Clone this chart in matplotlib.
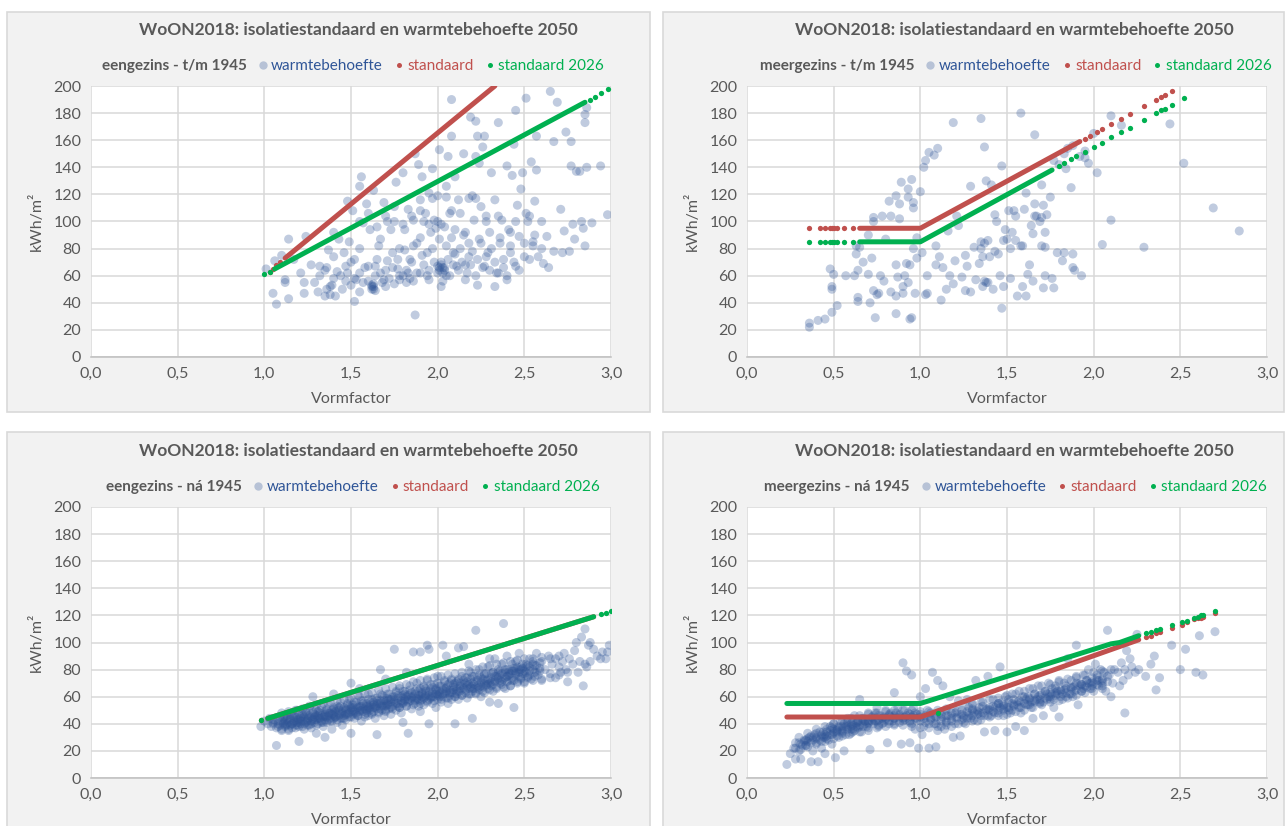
import matplotlib
matplotlib.use("Agg")
import matplotlib.pyplot as plt
from matplotlib.patches import Rectangle
from matplotlib.lines import Line2D
from matplotlib.ticker import FuncFormatter

plt.rcParams['font.family'] = ['Lato', 'DejaVu Sans']

TITLE = "WoON2018: isolatiestandaard en warmtebehoefte 2050"
panel_names = ["eengezins - t/m 1945", "meergezins - t/m 1945",
               "eengezins - ná 1945", "meergezins - ná 1945"]
series_names = ["warmtebehoefte", "standaard", "standaard 2026"]
x_ticks = [0.0, 0.5, 1.0, 1.5, 2.0, 2.5, 3.0]
y_ticks = [0, 20, 40, 60, 80, 100, 120, 140, 160, 180, 200]

# warmtebehoefte (vormfactor, kWh/m2)
tl_pts = [(1.01,65),(1.05,47),(1.07,39),(1.06,71),(1.10,75),(1.14,87),(1.12,55),(1.12,57),(1.14,43),
    (1.17,72),(1.23,47),(1.23,55),(1.24,89),(1.21,62),(1.27,68),(1.29,55),(1.31,48),(1.32,67),(1.35,45),
    (1.36,66),(1.37,79),(1.39,53),(1.40,92),(1.40,74),(1.41,45),(1.43,87),(1.44,60),(1.46,77),(1.47,67),
    (1.48,115),(1.49,85),(1.50,53),(1.51,108),(1.52,41),(1.52,72),(1.53,57),(1.55,80),(1.55,126),(1.56,133),
    (1.57,99),(1.57,55),(1.59,113),(1.60,67),(1.61,94),(1.62,52),(1.63,50),(1.63,123),(1.64,67),(1.66,82),
    (1.67,87),(1.69,114),(1.69,57),(1.70,52),(1.71,71),(1.71,100),(1.73,94),(1.74,77),(1.75,111),(1.76,129),
    (1.77,65),(1.78,60),(1.80,136),(1.81,79),(1.81,94),(1.82,55),(1.83,109),(1.84,72),(1.86,101),(1.87,31),
    (1.87,150),(1.88,84),(1.89,142),(1.90,62),(1.90,116),(1.91,133),(1.93,106),(1.94,77),(1.95,121),(1.95,57),
    (1.96,92),(1.97,139),(1.98,101),(2.00,67),(2.00,119),(2.01,87),(2.01,153),(2.02,52),(2.03,62),(2.04,96),
    (2.05,126),(2.06,148),(2.07,106),(2.08,163),(2.08,190),(2.09,77),(2.10,94),(2.10,133),(2.11,67),(2.13,106),
    (2.15,150),(2.16,57),(2.16,92),(2.18,74),(2.19,177),(2.20,119),(2.21,101),(2.22,148),(2.22,174),(2.23,53),
    (2.23,163),(2.24,87),(2.24,143),(2.25,111),(2.26,155),(2.27,67),(2.27,163),(2.28,104),(2.29,77),(2.30,92),
    (2.31,136),(2.33,116),(2.33,52),(2.34,62),(2.35,173),(2.36,84),(2.37,101),(2.38,72),(2.40,141),(2.40,57),
    (2.41,94),(2.42,77),(2.43,134),(2.44,157),(2.45,182),(2.45,67),(2.46,112),(2.47,89),(2.48,124),(2.49,136),
    (2.50,74),(2.51,106),(2.51,191),(2.53,104),(2.54,144),(2.55,82),(2.56,115),(2.57,138),(2.57,163),(2.58,74),
    (2.60,100),(2.61,69),(2.63,89),(2.64,66),(2.65,196),(2.67,78),(2.67,159),(2.69,188),(2.71,109),(2.72,77),
    (2.73,93),(2.74,166),(2.76,78),(2.77,141),(2.77,159),(2.78,98),(2.79,87),(2.80,137),(2.82,137),(2.83,100),
    (2.84,95),(2.85,173),(2.85,179),(2.86,184),(2.85,82),(2.86,140),(2.89,99),(2.94,141),(2.98,105),
    (1.32,60),(1.35,64),(1.38,52),(1.40,58),(1.42,63),(1.45,50),(1.48,62),(1.50,70),(1.52,58),(1.55,62),
    (1.55,48),(1.58,66),(1.60,56),(1.62,53),(1.64,60),(1.65,72),(1.67,62),(1.68,55),(1.70,64),(1.72,58),
    (1.74,66),(1.75,54),(1.77,72),(1.78,80),(1.80,60),(1.82,64),(1.84,58),(1.85,70),(1.86,82),(1.88,62),
    (1.90,88),(1.91,75),(1.92,68),(1.94,60),(1.95,98),(1.97,80),(1.98,70),(1.99,95),(2.00,62),(2.01,64),
    (2.02,70),(2.02,98),(2.03,56),(2.04,66),(2.05,82),(2.06,72),(2.07,60),(2.08,88),(2.09,68),(2.10,76),
    (2.12,64),(2.13,80),(2.14,70),(2.15,90),(2.17,62),(2.18,84),(2.19,68),(2.20,78),(2.22,60),(2.23,72),
    (2.25,84),(2.26,66),(2.28,74),(2.30,64),(2.31,80),(2.33,70),(2.35,62),(2.36,88),(2.38,66),(2.40,60),
    (2.42,82),(2.44,70),(2.47,64),(2.50,84),(2.53,72),(2.56,90),(2.60,80),(1.62,50),(1.63,52),(1.95,64),
    (2.02,68),(2.03,66),(1.47,56),(1.83,62),(1.55,100),(1.60,106),(1.65,96),(1.70,104),(1.75,100),(1.80,98),
    (1.85,104),(1.90,108),(1.92,100),(1.97,117),(2.00,100),(2.05,118),(2.08,108),(2.12,116),(2.18,117),
    (2.22,117),(2.28,100),(2.35,104),(2.42,92),(2.45,100),(2.52,100),(2.55,85),
    (1.36,50),(1.38,46),(1.63,54),(1.64,49),(1.86,56),(2.01,66),(2.04,64),(2.05,60),(1.78,57),(2.16,68)]

tr_pts = [(0.36,22),(0.36,25),(0.41,27),(0.45,28),(0.49,33),(0.48,65),(0.49,52),(0.49,50),(0.50,61),
    (0.52,38),(0.57,60),(0.62,60),(0.63,76),(0.63,82),(0.64,64),(0.64,44),(0.64,41),(0.65,81),(0.67,70),
    (0.70,61),(0.70,90),(0.71,40),(0.72,73),(0.73,100),(0.73,103),(0.74,29),(0.73,49),(0.75,46),(0.76,47),
    (0.77,60),(0.78,104),(0.79,56),(0.80,87),(0.82,115),(0.83,48),(0.83,104),(0.86,119),(0.86,68),(0.86,32),
    (0.86,45),(0.87,59),(0.88,102),(0.88,113),(0.89,129),(0.90,52),(0.90,47),(0.91,60),(0.92,69),(0.93,124),
    (0.93,118),(0.93,55),(0.94,68),(0.94,28),(0.95,29),(0.95,131),(0.96,114),(0.96,110),(0.96,80),(0.97,47),
    (0.98,73),(0.98,88),(1.00,122),(1.01,77),(1.02,140),(1.03,145),(1.03,46),(1.04,47),(1.04,60),(1.05,151),
    (1.08,149),(1.09,82),(1.09,68),(1.10,154),(1.11,74),(1.12,42),(1.13,66),(1.15,50),(1.16,93),(1.17,60),
    (1.19,173),(1.19,54),(1.20,71),(1.21,104),(1.22,97),(1.24,59),(1.26,49),(1.26,75),(1.27,67),(1.29,126),
    (1.29,48),(1.31,81),(1.32,57),(1.34,69),(1.35,176),(1.35,85),(1.36,74),(1.36,52),(1.37,155),(1.38,130),
    (1.38,55),(1.39,86),(1.40,74),(1.41,127),(1.42,50),(1.43,105),(1.44,100),(1.45,76),(1.46,60),(1.47,141),
    (1.47,36),(1.48,52),(1.49,94),(1.50,87),(1.51,108),(1.52,58),(1.52,80),(1.53,92),(1.54,108),(1.55,104),
    (1.56,45),(1.58,180),(1.59,82),(1.59,52),(1.60,109),(1.61,121),(1.61,45),(1.62,61),(1.63,68),(1.64,97),
    (1.65,56),(1.65,91),(1.66,113),(1.66,164),(1.67,104),(1.69,100),(1.70,127),(1.70,82),(1.71,112),(1.71,51),
    (1.72,60),(1.72,92),(1.73,105),(1.75,118),(1.76,58),(1.77,51),(1.79,77),(1.82,71),(1.83,77),(1.84,139),
    (1.85,154),(1.87,125),(1.88,66),(1.88,76),(1.89,64),(1.93,60),(1.95,147),(1.97,143),(2.02,136),(2.05,83),
    (2.10,178),(2.10,101),(2.16,171),(2.29,81),(2.44,172),(2.52,143),(2.69,110),(2.84,93),
    (1.35,80),(1.37,84),(1.43,78),(1.48,86),(1.55,86),(1.58,82),(1.66,104),(1.70,103),(1.72,81),(1.39,55),
    (1.37,56),(1.80,142),(1.83,150),(1.88,156),(1.92,148),(1.95,152),(2.00,165),(1.77,145)]

bl_pts = [(0.98,38),(1.00,42),(1.02,40),(1.03,44),(1.04,38),(1.05,41),(1.06,43),(1.07,24),(1.07,37),
    (1.08,40),(1.09,45),(1.09,39),(1.10,42),(1.10,36),
    (1.11,40),(1.11,44),(1.12,38),(1.12,42),(1.13,46),(1.13,39),(1.14,41),(1.14,35),(1.15,43),(1.15,47),
    (1.16,40),(1.16,37),(1.17,44),(1.17,42),(1.18,39),(1.18,45),(1.19,50),(1.19,41),(1.20,27),(1.20,43),(1.20,38),
    (1.21,44),(1.21,40),(1.22,47),(1.22,42),(1.23,36),(1.23,45),(1.24,41),(1.24,49),(1.25,43),(1.25,39),
    (1.26,46),(1.26,52),(1.27,42),(1.27,37),(1.28,44),(1.28,48),(1.29,41),(1.29,45),(1.30,50),(1.30,33),(1.30,43),
    (1.31,46),(1.31,40),(1.32,44),(1.32,48),(1.33,42),(1.33,52),(1.34,45),(1.34,38),(1.35,47),(1.35,30),
    (1.35,43),(1.36,50),(1.36,41),(1.37,46),(1.37,55),(1.38,44),(1.38,48),(1.39,42),(1.39,36),(1.40,47),
    (1.40,51),(1.40,44),
    (1.41,49),(1.41,45),(1.42,53),(1.42,41),(1.43,47),(1.43,50),(1.44,44),(1.44,56),(1.45,48),(1.45,39),
    (1.46,46),(1.46,52),(1.47,50),(1.47,43),(1.48,54),(1.48,47),(1.49,45),(1.49,58),(1.50,49),(1.50,33),
    (1.50,52),(1.50,70),
    (1.51,47),(1.51,54),(1.52,50),(1.52,44),(1.53,56),(1.53,48),(1.54,52),(1.54,46),(1.55,60),(1.55,50),
    (1.56,42),(1.56,53),(1.57,49),(1.57,57),(1.58,51),(1.58,45),(1.59,55),(1.59,48),(1.60,52),(1.60,62),(1.60,46),
    (1.61,54),(1.61,50),(1.62,47),(1.62,58),(1.63,52),(1.63,56),(1.64,44),(1.64,53),(1.65,59),(1.65,32),
    (1.65,51),(1.66,55),(1.66,48),(1.67,57),(1.67,62),(1.68,50),(1.68,54),(1.69,46),(1.69,60),(1.70,53),
    (1.70,57),(1.70,49),(1.70,73),
    (1.71,55),(1.71,62),(1.72,51),(1.72,58),(1.73,47),(1.73,56),(1.74,60),(1.74,53),(1.75,95),(1.75,57),
    (1.76,50),(1.76,64),(1.77,55),(1.77,59),(1.78,52),(1.78,66),(1.79,57),(1.79,48),(1.80,61),(1.80,55),(1.80,41),
    (1.81,58),(1.81,64),(1.82,53),(1.82,60),(1.83,33),(1.83,56),(1.84,62),(1.84,68),(1.85,57),(1.85,51),
    (1.86,60),(1.86,93),(1.87,55),(1.87,64),(1.88,59),(1.88,70),(1.89,53),(1.89,61),(1.90,57),(1.90,66),(1.90,49),
    (1.91,62),(1.91,58),(1.92,68),(1.92,54),(1.93,60),(1.93,64),(1.94,57),(1.94,72),(1.95,61),(1.95,40),
    (1.95,95),(1.96,59),(1.96,66),(1.97,63),(1.97,55),(1.98,69),(1.98,60),(1.99,65),(1.99,52),(2.00,62),
    (2.00,75),(2.00,58),
    (2.01,64),(2.01,60),(2.02,68),(2.02,56),(2.03,62),(2.03,98),(2.04,66),(2.04,72),(2.05,59),(2.05,63),
    (2.06,69),(2.06,55),(2.07,65),(2.07,61),(2.08,73),(2.08,58),(2.09,67),(2.09,63),(2.10,60),(2.10,70),(2.10,40),
    (2.11,66),(2.11,62),(2.12,72),(2.12,58),(2.13,68),(2.13,64),(2.14,75),(2.14,61),(2.15,67),(2.15,97),
    (2.16,63),(2.16,70),(2.17,59),(2.17,74),(2.18,66),(2.18,69),(2.19,62),(2.19,78),(2.20,68),(2.20,44),(2.20,64),
    (2.21,71),(2.21,66),(2.22,109),(2.22,62),(2.23,74),(2.23,68),(2.24,65),(2.24,80),(2.25,70),(2.25,60),
    (2.26,73),(2.26,67),(2.27,77),(2.27,63),(2.28,69),(2.28,72),(2.29,66),(2.29,82),(2.30,70),(2.30,56),
    (2.31,74),(2.31,68),(2.32,78),(2.32,64),(2.33,71),(2.33,88),(2.34,75),(2.34,67),(2.35,80),(2.35,55),
    (2.36,72),(2.36,76),(2.37,69),(2.37,84),(2.38,73),(2.38,114),(2.39,78),(2.39,66),(2.40,75),(2.40,90),
    (2.41,72),(2.41,80),(2.42,77),(2.42,68),(2.43,84),(2.43,74),(2.44,52),(2.44,79),(2.45,76),(2.45,86),
    (2.46,71),(2.46,82),(2.47,78),(2.47,92),(2.48,74),(2.48,80),(2.49,84),(2.50,77),(2.50,70),
    (2.51,82),(2.52,75),(2.53,88),(2.53,79),(2.54,73),(2.55,84),(2.56,78),(2.57,92),(2.58,76),(2.59,81),
    (2.60,86),(2.60,72),(2.62,80),(2.64,90),(2.65,77),(2.66,84),(2.68,88),(2.68,74),
    (2.70,82),(2.71,78),(2.72,86),(2.73,92),(2.74,80),(2.75,71),(2.76,88),(2.78,84),(2.79,94),(2.80,100),
    (2.81,78),(2.82,86),(2.83,104),(2.84,68),(2.85,110),(2.86,82),(2.87,98),(2.88,86),(2.90,95),(2.92,90),
    (2.94,88),(2.95,93),(2.97,88),(2.98,93),(2.99,98),(2.85,84),(2.88,100),(2.75,78),
    (1.28,60),(1.40,62),(1.55,66),(1.67,80),(1.82,78),(1.90,93),(1.94,98),(2.05,90),(2.12,96),(2.30,88),(2.18,84)]

# the dark core of the eengezins ná 1945 cloud
bl_core_pts = [(1.05,40),(1.05,43),(1.08,42),(1.08,38),(1.11,41),(1.11,45),(1.13,43),(1.13,40),(1.15,39),
    (1.15,44),(1.17,46),(1.17,41),(1.19,43),(1.19,39),(1.21,45),(1.21,42),(1.23,40),(1.23,47),(1.25,44),
    (1.25,46),(1.27,45),(1.27,40),(1.29,47),(1.29,43),(1.31,44),(1.31,49),(1.33,46),(1.33,41),(1.35,49),
    (1.35,45),(1.37,43),(1.37,48),(1.39,47),(1.39,50),(1.41,45),(1.41,51),(1.43,52),(1.43,46),(1.45,49),
    (1.45,44),(1.47,51),(1.47,47),(1.49,48),(1.49,53),(1.51,50),(1.51,52),(1.53,47),(1.53,54),(1.55,53),
    (1.55,49),(1.57,51),(1.57,55),(1.59,50),(1.59,53),(1.61,56),(1.61,52),(1.63,54),(1.63,49),(1.65,53),
    (1.65,57),(1.67,55),(1.67,51),(1.69,57),(1.69,53),(1.71,54),(1.71,59),(1.73,58),(1.73,52),(1.75,56),
    (1.75,60),(1.77,53),(1.77,61),(1.79,60),(1.79,55),(1.81,57),(1.81,62),(1.83,61),(1.83,58),(1.85,59),
    (1.85,63),(1.87,62),(1.87,57),(1.89,58),(1.89,64),(1.91,63),(1.91,60),(1.93,61),(1.93,66),(1.95,64),
    (1.95,58),(1.97,60),(1.97,67),(1.99,66),(1.99,62),(2.01,62),(2.01,68),(2.03,65),(2.03,60),(2.05,67),
    (2.05,64),(2.07,63),(2.07,70),(2.09,69),(2.09,65),(2.11,64),(2.11,71),(2.13,70),(2.13,66),(2.15,66),
    (2.15,72),(2.17,71),(2.17,68),(2.19,67),(2.19,73),(2.21,69),(2.21,75),(2.23,72),(2.23,66),(2.25,74),
    (2.25,68),(2.27,70),(2.27,76),(2.29,73),(2.29,69),(2.31,71),(2.31,77),(2.33,75),(2.33,72),(2.35,73),
    (2.35,78),(2.37,77),(2.37,71),(2.39,74),(2.39,80),(2.41,76),(2.41,78),(2.43,79),(2.43,72),(2.45,78),
    (2.45,81),(2.47,75),(2.47,80),(2.49,81),(2.49,77),(2.51,78),(2.51,84),(2.53,76),(2.53,82),(2.55,80),
    (2.55,86),(2.57,83),(2.57,78),(2.59,79),(2.59,85),
    (1.20,44),(1.30,46),(1.40,48),(1.50,51),(1.60,53),(1.70,56),(1.80,59),(1.90,61),(2.00,64),(2.10,67),
    (2.20,70),(2.30,72),(2.40,75),(2.50,79),(1.25,42),(1.35,46),(1.45,50),(1.55,52),(1.65,55),(1.75,58),
    (1.85,60),(1.95,63),(2.05,66),(2.15,69),(2.25,71),(2.35,74),(2.45,77)]

# upper and lower flanks of that cloud
bl_flank_pts = [(1.10,48),(1.10,35),(1.14,49),(1.14,36),(1.18,50),(1.18,37),(1.22,51),(1.22,38),(1.26,53),
    (1.26,39),(1.30,54),(1.30,39),(1.34,55),(1.34,41),(1.38,56),(1.38,42),(1.42,57),(1.42,43),(1.46,58),
    (1.46,44),(1.50,59),(1.50,45),(1.54,61),(1.54,46),(1.58,62),(1.58,47),(1.62,63),(1.62,48),(1.66,65),
    (1.66,49),(1.70,66),(1.70,50),(1.74,67),(1.74,51),(1.78,68),(1.78,52),(1.82,69),(1.82,53),(1.86,71),
    (1.86,54),(1.90,72),(1.90,55),(1.94,73),(1.94,56),(1.98,74),(1.98,57),(2.02,75),(2.02,58),(2.06,76),
    (2.06,59),(2.10,77),(2.10,60),(2.14,78),(2.14,61),(2.18,79),(2.18,62),(2.22,80),(2.22,63),(2.26,82),
    (2.26,64),(2.30,83),(2.30,65),(2.34,84),(2.34,66),(2.38,85),(2.38,67),(2.42,86),(2.42,68),(2.46,87),
    (2.46,70),(2.50,88),(2.50,71),(2.55,88),(2.55,72),(2.60,89),(2.60,73),(2.65,88),(2.65,74),(2.70,90),
    (2.70,76),
    (1.12,45),(1.16,46),(1.20,47),(1.24,48),(1.28,49),(1.32,50),(1.36,51),(1.40,52),(1.44,53),(1.48,55),
    (1.52,56),(1.56,57),(1.60,58),(1.64,59),(1.68,61),(1.72,62),(1.76,63),(1.80,64),(1.84,65),(1.88,66),
    (1.92,67),(1.96,69),(2.00,70),(2.04,71),(2.08,72),(2.12,73),(2.16,74),(2.20,75),(2.24,76),(2.28,77),
    (2.32,78),(2.36,79),(2.40,80),(2.44,81),(2.48,82),(2.52,83),(2.56,83),
    (1.12,39),(1.16,40),(1.20,41),(1.24,42),(1.28,43),(1.32,44),(1.36,45),(1.40,46),(1.44,47),(1.48,48),
    (1.52,49),(1.56,50),(1.60,51),(1.64,52),(1.68,53),(1.72,54),(1.76,55),(1.80,56),(1.84,57),(1.88,58),
    (1.92,59),(1.96,60),(2.00,61),(2.04,62),(2.08,63),(2.12,64),(2.16,65),(2.20,66),(2.24,67),(2.28,68),
    (2.32,69),(2.36,70),(2.40,71),(2.44,72),(2.48,73),(2.52,74),(2.56,75)]

br_pts = [(0.23,10),(0.25,18),(0.27,22),(0.28,14),(0.30,26),(0.31,14),(0.33,28),(0.34,24),(0.36,30),
    (0.37,12),(0.38,20),(0.39,32),(0.40,26),(0.41,12),(0.42,34),(0.43,22),(0.44,30),(0.45,18),(0.46,36),
    (0.47,28),(0.48,38),(0.49,25),(0.50,33),(0.50,40),(0.51,15),(0.52,36),(0.53,30),(0.54,42),(0.55,34),
    (0.56,20),(0.57,38),(0.58,44),(0.59,32),(0.60,40),(0.61,36),(0.62,46),(0.63,38),(0.64,42),(0.65,58),
    (0.66,34),(0.67,44),(0.68,40),(0.70,48),(0.71,21),(0.72,42),(0.73,46),(0.75,52),(0.76,38),(0.77,46),
    (0.78,44),(0.80,50),(0.81,26),(0.82,40),(0.83,48),(0.85,63),(0.85,44),(0.87,52),(0.88,46),(0.89,25),
    (0.90,85),(0.90,42),(0.91,50),(0.92,79),(0.93,48),(0.94,26),(0.95,76),(0.95,40),(0.96,52),(0.97,36),
    (0.98,47),(0.99,22),(1.00,45),(1.00,60),(1.01,32),(1.02,38),(1.03,66),(1.04,50),(1.05,22),(1.06,44),
    (1.07,78),(1.08,40),(1.09,23),(1.10,35),(1.10,72),(1.11,48),(1.12,42),(1.13,68),(1.14,36),(1.15,50),
    (1.16,46),(1.17,60),(1.18,38),(1.19,30),(1.20,48),(1.21,44),(1.22,57),(1.23,31),(1.24,50),(1.25,46),
    (1.26,40),(1.27,58),(1.28,52),(1.29,44),(1.30,54),(1.31,48),(1.32,72),(1.33,42),(1.34,52),(1.35,46),
    (1.36,56),(1.37,34),(1.38,50),(1.39,75),(1.40,52),(1.41,46),(1.42,58),(1.43,35),(1.44,54),(1.45,48),
    (1.46,82),(1.47,56),(1.48,50),(1.49,60),(1.50,52),(1.50,34),(1.51,58),(1.52,48),(1.53,62),(1.54,54),
    (1.55,38),(1.56,56),(1.57,64),(1.58,52),(1.59,60),(1.60,35),(1.61,58),(1.62,54),(1.63,66),(1.64,56),
    (1.65,44),(1.66,62),(1.67,58),(1.68,68),(1.69,55),(1.70,62),(1.71,46),(1.72,64),(1.73,58),(1.74,70),
    (1.75,60),(1.76,66),(1.77,52),(1.78,68),(1.79,62),(1.80,72),(1.80,45),(1.81,64),(1.82,58),(1.83,70),
    (1.84,66),(1.85,88),(1.86,62),(1.87,72),(1.88,60),(1.89,68),(1.90,98),(1.90,74),(1.91,54),(1.92,70),
    (1.93,64),(1.94,76),(1.95,68),(1.96,72),(1.97,80),(1.98,66),(1.99,74),(2.00,70),(2.01,84),(2.02,76),
    (2.03,68),(2.04,80),(2.05,72),(2.06,78),(2.07,64),(2.08,109),(2.09,76),(2.10,80),(2.10,60),(2.11,70),
    (2.12,80),(2.14,78),(2.15,68),(2.16,85),(2.17,72),(2.18,48),(2.18,80),(2.19,94),(2.20,76),(2.21,88),
    (2.22,82),(2.24,78),(2.25,106),(2.26,80),(2.30,75),(2.33,84),(2.35,90),(2.36,65),(2.38,74),(2.45,98),
    (2.50,80),(2.53,95),(2.59,78),(2.61,105),(2.63,76),(2.70,108),
    (0.32,24),(0.35,27),(0.38,28),(0.40,30),(0.42,28),(0.44,34),(0.46,31),(0.48,32),(0.50,36),(0.52,34),
    (0.53,38),(0.55,36),(0.56,40),(0.58,38),(0.60,36),(0.61,42),(0.63,40),(0.65,38),(0.66,44),(0.68,42),
    (0.70,40),(0.72,45),(0.74,42),(0.76,46),(0.78,40),(0.80,44),(0.82,47),(0.84,42),(0.86,48),(0.88,44),
    (0.92,46),(0.94,42),(0.96,46),(0.98,42),(1.02,44),(1.05,40),(1.08,46),(1.12,38),(1.15,42),(1.18,44),
    (1.22,40),(1.25,44),(1.28,46),(1.31,43),(1.34,48),(1.37,46),(1.40,50),(1.43,48),(1.46,52),(1.48,46),
    (1.51,52),(1.53,50),(1.56,54),(1.58,48),(1.61,54),(1.64,52),(1.66,56),(1.69,58),(1.71,56),(1.74,60),
    (1.77,58),(1.79,64),(1.82,62),(1.84,60),(1.87,66),(1.89,64),(1.92,68),(1.94,66),(1.97,70),(1.99,68),
    (2.02,72),(2.05,68),(1.76,62),(1.62,60),(1.45,55),(1.30,50),(0.57,32),(0.62,35),(0.45,30),(0.69,38),(0.74,48)]

# the dark core of the meergezins ná 1945 cloud
br_core_pts = [(0.28,22),(0.28,26),(0.31,25),(0.31,21),(0.34,28),(0.34,24),(0.37,26),(0.37,31),(0.40,29),
    (0.40,33),(0.43,31),(0.43,27),(0.46,34),(0.46,29),(0.49,32),(0.49,37),(0.52,35),(0.52,31),(0.55,38),
    (0.55,33),(0.58,36),(0.58,41),(0.61,39),(0.61,34),(0.64,41),(0.64,37),(0.67,38),(0.67,43),(0.70,42),
    (0.70,37),(0.73,40),(0.73,44),(0.76,43),(0.76,39),(0.79,45),(0.79,41),(0.82,42),(0.82,46),(0.85,46),
    (0.85,40),(0.88,41),(0.88,47),(0.91,45),(0.91,43),(0.94,47),(0.94,41),(0.97,44),(0.97,48),(1.00,42),
    (1.00,47),(1.03,46),(1.03,41),(1.06,43),(1.06,48),(1.09,40),(1.09,45),(1.12,44),(1.12,47),(1.15,46),
    (1.15,41),(1.18,42),(1.18,48),(1.21,45),(1.21,49),(1.24,47),(1.24,43),(1.27,49),(1.27,44),(1.30,46),
    (1.30,51),(1.33,50),(1.33,47),(1.36,48),(1.36,53),(1.39,51),(1.39,46),(1.42,53),(1.42,49),(1.45,50),
    (1.45,55),(1.48,54),(1.48,51),(1.51,56),(1.51,50),(1.54,53),(1.54,58),(1.57,57),(1.57,52),(1.60,55),
    (1.60,60),(1.63,59),(1.63,54),(1.66,57),(1.66,62),(1.69,61),(1.69,56),(1.72,59),(1.72,64),(1.75,63),
    (1.75,58),(1.78,61),(1.78,66),(1.81,65),(1.81,60),(1.84,63),(1.84,68),(1.87,67),(1.87,62),(1.90,65),
    (1.90,70),(1.93,69),(1.93,64),(1.96,67),(1.96,72),(1.99,71),(1.99,66),(2.02,69),(2.02,74),(2.05,73),
    (2.05,70),(2.08,75),(2.08,71),
    (0.35,29),(0.45,32),(0.55,35),(0.65,39),(0.75,42),(0.85,44),(0.95,45),(0.60,38),(0.50,34),(0.70,41),
    (0.80,43),(0.90,44)]

# upper and lower flanks of that cloud
br_flank_pts = [(0.30,30),(0.30,20),(0.35,33),(0.35,23),(0.40,36),(0.40,25),(0.45,38),(0.45,27),(0.50,40),
    (0.50,29),(0.55,42),(0.55,31),(0.60,44),(0.60,33),(0.65,46),(0.65,34),(0.70,47),(0.70,35),(0.75,48),
    (0.75,37),(0.80,49),(0.80,38),(0.85,50),(0.85,39),(0.90,50),(0.90,39),(0.95,50),(0.95,38),(1.00,49),
    (1.00,37),(1.05,49),(1.05,37),(1.10,50),(1.10,38),(1.15,51),(1.15,39),(1.20,52),(1.20,40),(1.25,53),
    (1.25,41),(1.30,55),(1.30,42),(1.35,56),(1.35,43),(1.40,58),(1.40,45),(1.45,59),(1.45,46),(1.50,61),
    (1.50,47),(1.55,62),(1.55,49),(1.60,64),(1.60,50),(1.65,66),(1.65,52),(1.70,68),(1.70,54),(1.75,69),
    (1.75,56),(1.80,71),(1.80,57),(1.85,73),(1.85,59),(1.90,75),(1.90,61),(1.95,76),(1.95,63),(2.00,78),
    (2.00,64),(2.05,79),(2.05,66),
    (0.33,27),(0.38,30),(0.43,32),(0.48,35),(0.53,37),(0.58,39),(0.63,41),(0.68,42),(0.73,43),(0.78,44),
    (0.83,45),(0.88,45),(0.93,44),(0.98,44),(1.03,44),(1.08,44),(1.13,45),(1.18,46),(1.23,47),(1.28,48),
    (1.33,49),(1.38,51),(1.43,52),(1.48,53),(1.53,55),(1.58,56),(1.63,58),(1.68,60),(1.73,62),(1.78,63),
    (1.83,65),(1.88,67),(1.93,69),(1.98,70),(2.03,72)]

# standaard / standaard 2026: dense runs (drawn as a line) and loose dots
tl_red_run = [(1.12, 73), (2.33, 200)]
tl_red_dots = [(1.03, 63), (1.05, 65), (1.07, 68), (1.09, 70)]
tl_green_run = [(1.06, 65), (2.85, 188)]
tl_green_dots = [(1.00, 61), (1.03, 63), (2.88, 190), (2.91, 192), (2.94, 195), (2.98, 198)]

tr_red_run = [(0.65, 95), (1.00, 95), (1.92, 159)]
tr_red_dots = [(0.36,95),(0.42,95),(0.45,95),(0.48,95),(0.49,95),(0.50,95),(0.52,95),(0.56,95),(0.61,95),
    (1.95,161),(1.98,163),(2.02,166),(2.05,168),(2.10,172),(2.16,176),(2.21,179),(2.29,185),(2.36,190),
    (2.39,192),(2.41,193),(2.45,196)]
tr_green_run = [(0.65, 85), (1.00, 85), (1.76, 138)]
tr_green_dots = [(0.36,85),(0.42,85),(0.45,85),(0.48,85),(0.49,85),(0.50,85),(0.52,85),(0.56,85),(0.61,85),
    (1.80,141),(1.83,143),(1.87,146),(1.90,148),(1.95,151),(2.00,155),(2.05,158),(2.10,162),(2.16,166),
    (2.21,169),(2.29,175),(2.36,180),(2.39,182),(2.41,183),(2.45,186),(2.52,191)]

bl_red_run = [(1.02, 44), (2.90, 119)]
bl_red_dots = [(0.98, 43)]
bl_green_run = [(1.02, 44), (2.90, 119)]
bl_green_dots = [(0.98, 43), (2.94, 121), (2.97, 122), (3.00, 123)]

br_red_run = [(0.23, 45), (1.00, 45), (2.26, 102)]
br_red_dots = [(2.30,104),(2.33,105),(2.36,107),(2.38,108),(2.45,111),(2.51,113),(2.54,115),(2.58,117),
    (2.60,118),(2.62,118),(2.63,119),(2.70,122)]
br_green_run = [(0.23, 55), (1.00, 55), (2.10, 99), (2.15, 100), (2.26, 105)]
br_green_dots = [(1.10,48),(2.30,107),(2.33,108),(2.36,109),(2.38,110),(2.45,113),(2.51,115),(2.54,116),
    (2.58,118),(2.60,119),(2.62,120),(2.63,120),(2.70,123)]

BLUE = '#2F5597'
RED = '#C0504D'
GREEN = '#00B050'
GRAY = '#595959'
GRID = '#D9D9D9'


def draw_panel(ax, name, pts, red_run, red_dots, green_run, green_dots, leg_x):
    x, y = zip(*pts)
    ax.scatter(x, y, s=42, color=BLUE, alpha=0.3, edgecolors='none', zorder=2)
    for run, dots, col in [(red_run, red_dots, RED), (green_run, green_dots, GREEN)]:
        rx, ry = zip(*run)
        ax.plot(rx, ry, color=col, lw=3.6, solid_capstyle='round', solid_joinstyle='round', zorder=3)
        dx, dy = zip(*dots)
        ax.plot(dx, dy, 'o', color=col, ms=3.8, mec='none', zorder=3)

    ax.set_xlim(0, 3)
    ax.set_ylim(0, 200)
    ax.set_xticks(x_ticks)
    ax.set_yticks(y_ticks)
    ax.xaxis.set_major_formatter(FuncFormatter(lambda v, p: f"{v:.1f}".replace('.', ',')))
    ax.grid(True, color=GRID, lw=1.1)
    ax.set_axisbelow(True)
    for s in ['top', 'right', 'left']:
        ax.spines[s].set_visible(False)
    ax.spines['bottom'].set_color('#BFBFBF')
    ax.spines['bottom'].set_linewidth(1.1)
    ax.tick_params(length=0, labelsize=11.5, labelcolor=GRAY, pad=7)
    ax.set_xlabel("Vormfactor", fontsize=11.5, color=GRAY)
    ax.set_ylabel("kWh/m²", fontsize=11.5, color=GRAY)
    ax.xaxis.set_label_coords(0.5, -0.128)
    ax.yaxis.set_label_coords(-0.09, 0.5)

    ax.text(0.515, 1.205, TITLE, transform=ax.transAxes, ha='center', va='center',
            fontsize=12.5, fontweight='bold', color=GRAY)

    handles = [Line2D([], [], ls='none'),
               Line2D([], [], ls='none', marker='o', ms=6, color=BLUE, alpha=0.3, mec='none'),
               Line2D([], [], ls='none', marker='o', ms=3.6, color=RED, mec='none'),
               Line2D([], [], ls='none', marker='o', ms=3.6, color=GREEN, mec='none')]
    labels = [name] + series_names
    leg = ax.legend(handles, labels, ncol=4, loc='center', bbox_to_anchor=(leg_x, 1.074),
                    frameon=False, handlelength=0.5, handletextpad=0.3, columnspacing=0.8,
                    fontsize=11, borderpad=0)
    texts = leg.get_texts()
    texts[0].set_fontweight('bold')
    for t, c in zip(texts, [GRAY, BLUE, RED, GREEN]):
        t.set_color(c)


fig = plt.figure(figsize=(12.86, 8.26), dpi=100)
W, H = 1286, 826

# chart area boxes (pixels: left, top, right, bottom)
boxes = [(7, 12, 650, 412), (663, 12, 1284, 412), (7, 432, 650, 840), (663, 432, 1284, 840)]
for l, t, r, b in boxes:
    fig.patches.append(Rectangle((l / W, 1 - b / H), (r - l) / W, (b - t) / H,
                                 transform=fig.transFigure, facecolor='#F2F2F2',
                                 edgecolor=GRID, lw=1.2, zorder=-5))

# plot areas (pixels: left, top, right, bottom)
areas = [(91, 86, 611, 357), (747, 86, 1267, 357), (91, 507, 611, 778), (747, 507, 1267, 778)]
panel_data = [
    (tl_pts, tl_red_run, tl_red_dots, tl_green_run, tl_green_dots, 0.492),
    (tr_pts, tr_red_run, tr_red_dots, tr_green_run, tr_green_dots, 0.505),
    (bl_pts + bl_core_pts + bl_flank_pts, bl_red_run, bl_red_dots, bl_green_run, bl_green_dots, 0.492),
    (br_pts + br_core_pts + br_flank_pts, br_red_run, br_red_dots, br_green_run, br_green_dots, 0.505),
]
for (l, t, r, b), name, data in zip(areas, panel_names, panel_data):
    ax = fig.add_axes([l / W, 1 - b / H, (r - l) / W, (b - t) / H])
    ax.set_facecolor('white')
    draw_panel(ax, name, *data)

fig.savefig("out.png", dpi=100)
